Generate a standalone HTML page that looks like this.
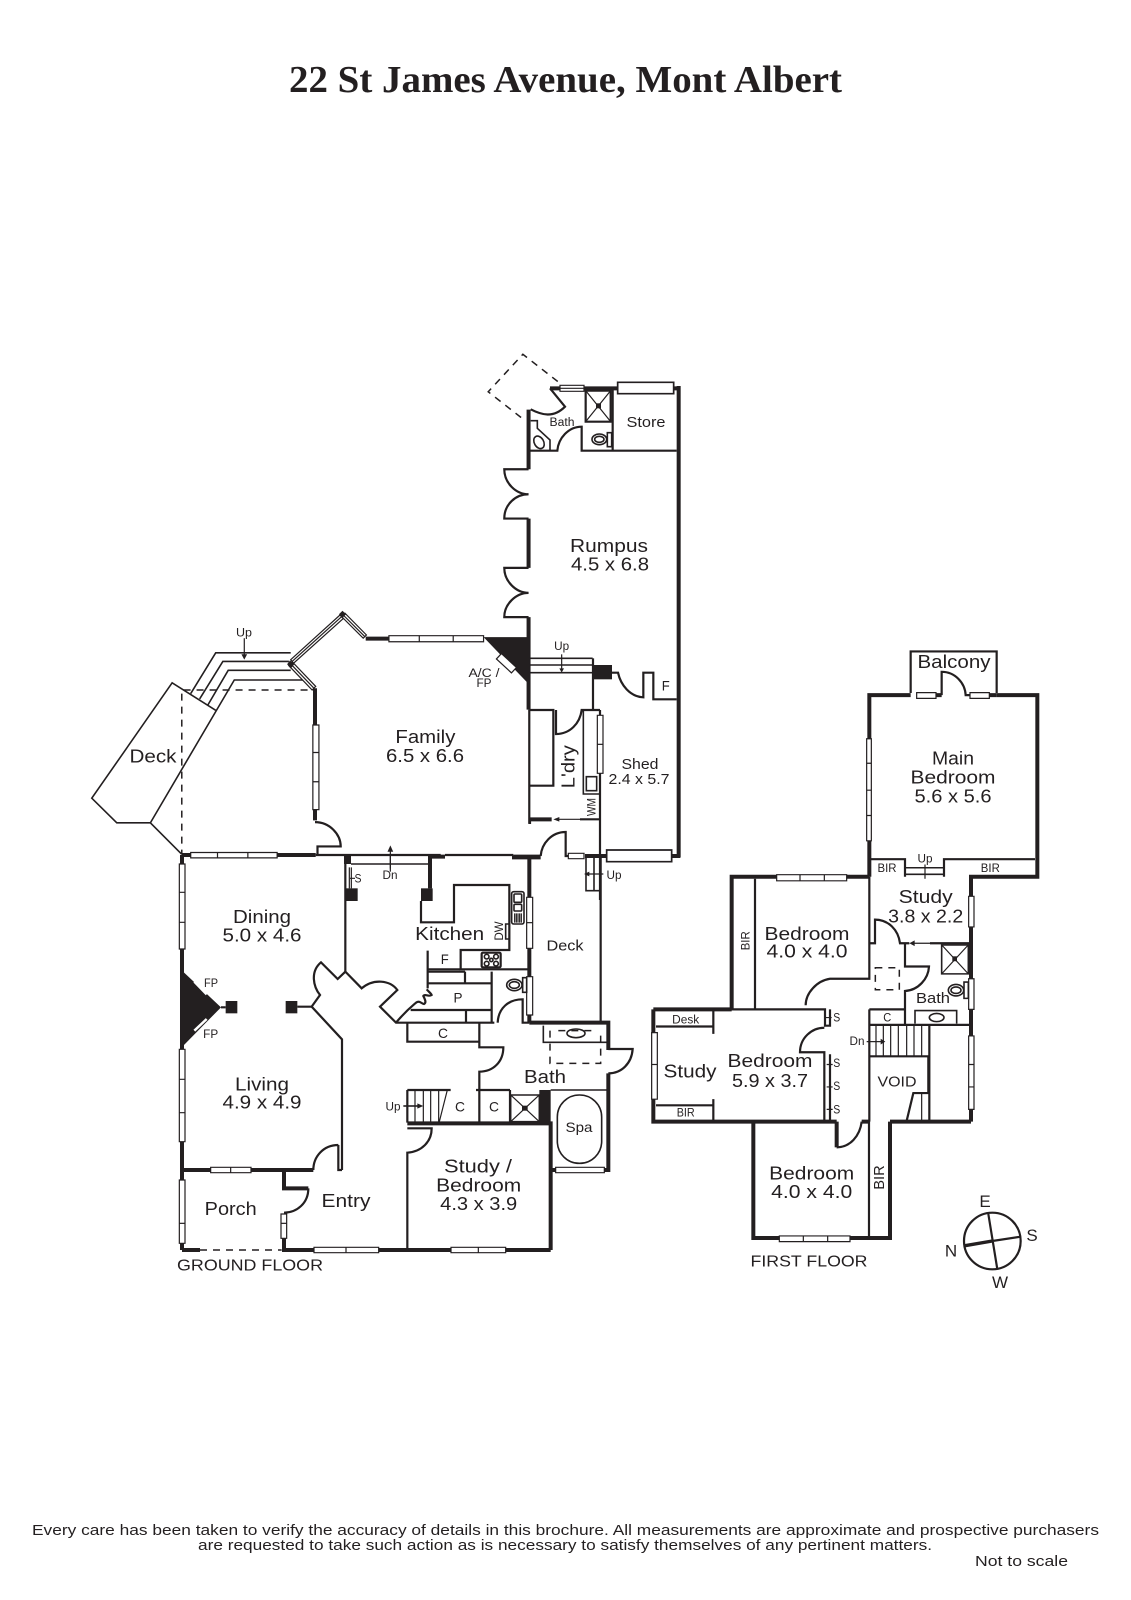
<!DOCTYPE html>
<html><head><meta charset="utf-8">
<style>
html,body{margin:0;padding:0;background:#fff}
svg{display:block}
svg path,svg rect,svg ellipse,svg circle,svg line,svg polygon{vector-effect:non-scaling-stroke}
.p path,.p rect,.p ellipse,.p circle,.p line{fill:none;stroke:#231f20;stroke-width:1.6;stroke-linejoin:miter}
.p .t{stroke-width:1.2}
.p .m{stroke-width:2.2}
.p .w{stroke-width:4}
.p .d{stroke-width:1.5;stroke-dasharray:7 6}
.p .win{fill:#fff;stroke-width:1.2}
.p .wb{fill:#fff;stroke-width:1.7}
.p .k{fill:#231f20;stroke:none}
.p .white{fill:#fff;stroke:#231f20;stroke-width:1.2}
text{font-family:"Liberation Sans",sans-serif;fill:#231f20;text-anchor:middle;font-size:18px}
.s11{font-size:11.5px}.s14{font-size:14px}.s15{font-size:15px}.s16{font-size:16px}
</style></head>
<body>
<svg width="1131" height="1600" viewBox="0 0 1131 1600" xmlns="http://www.w3.org/2000/svg">
<rect width="1131" height="1600" fill="#fff"/>

<!-- Zoom-1 coordinates -->
<g class="p" transform="translate(80,340) scale(.35714)">
<path class="d" d="M1235,217L1143,145L1240,40L1340,118"/>
<path class="w" d="M1256,195V362"/>
<path class="m" d="M1256,362H1188C1188,400 1220,432 1256,432C1220,432 1188,460 1188,500H1256"/>
<path class="w" d="M1256,500V638"/>
<path class="m" d="M1256,638H1188C1188,675 1220,708 1256,708C1220,708 1188,740 1188,776H1256"/>
<path class="w" d="M1256,776V1035"/>
<path class="m" d="M1258,1035V1355"/>
<polygon class="k" points="1130,832 1258,832 1258,965"/>
<polygon class="white" points="1166,893 1180,878 1222,917 1208,932"/>
<path class="w" d="M800,836H865"/>
<rect class="win" x="865" y="828" width="265" height="17"/>
<path class="t" d="M950,828V845M1045,828V845"/>
<path d="M590,876H380L310,990M585,900H400L335,1005M590,925H415L358,1022M630,952H432L197,1352"/>
<polygon class="white" points="590,895 728,770 737,780 598,905"/>
<path class="t" d="M594,900L732,775"/>
<polygon class="white" points="733,775 742,765 802,826 793,835"/>
<path class="t" d="M737,770L797,830"/>
<polygon class="k" points="735,758 745,768 735,778 725,768"/>
<polygon class="white" points="585,912 595,902 660,970 650,980"/>
<path class="t" d="M590,907L655,975"/>
<polygon class="k" points="588,897 600,908 590,920 580,908"/>
<path class="w" d="M658,975V1345"/>
<rect class="win" x="652" y="1078" width="17" height="237"/>
<path class="t" d="M652,1155H669M652,1237H669"/>
<path class="m" d="M658,1350C700,1350 730,1385 730,1418H665V1442"/>
<path class="w" d="M285,1442H660"/>
<path class="m" d="M660,1442H1010"/>
<rect class="win" x="310" y="1435" width="242" height="15"/>
<path class="t" d="M385,1435V1450M470,1435V1450"/>
<path d="M380,1037L258,960L33,1283L103,1352H197L285,1440"/>
<path class="d" d="M290,980H655M285,990V1440"/>
<path class="t" d="M460,835V885"/><polygon class="k" points="452,880 468,880 460,895"/>
<path class="t" d="M869,1432V1480"/><polygon class="k" points="869,1415 861,1433 877,1433"/>
</g>

<!-- Zoom-5 coordinates -->
<g class="p" transform="translate(500,360) scale(.33333)">
<path class="w" d="M150,85H180M252,85H352M521,85H540"/>
<rect class="win" x="180" y="76" width="72" height="18"/>
<path class="t" d="M180,85H252"/>
<rect class="wb" x="353" y="67" width="168" height="34"/>
<path class="m" d="M150,85L195,140C160,175 125,165 92,148"/>
<path class="m" d="M90,272H172C175,235 205,200 245,200V272H530"/>
<path d="M92,182H112V205L150,240V272"/>
<ellipse cx="117" cy="247" rx="14" ry="20" transform="rotate(-30 117 247)"/>
<rect x="257" y="92" width="75" height="93" class="m"/>
<path class="t" d="M257,92L332,185M332,92L257,185"/>
<rect class="k" x="288" y="130" width="15" height="15"/>
<path class="m" d="M338,90V272"/>
<ellipse cx="298" cy="238" rx="22" ry="16"/><ellipse cx="298" cy="238" rx="14" ry="9"/>
<rect x="322" y="218" width="13" height="42"/>
<path class="w" d="M536,78V1493"/>
</g>

<!-- Zoom-6 coordinates -->
<g class="p" transform="translate(500,620) scale(.33333)">
<path d="M90,115H278M90,135H278M90,158H278"/>
<path class="m" d="M279,115V270"/>
<rect class="k" x="278" y="135" width="58" height="43"/>
<path class="m" d="M336,158H354C362,195 390,230 430,232V158H460V238H530"/>
<path class="t" d="M185,103V150"/><polygon class="k" points="178,145 192,145 185,158"/>
<path class="m" d="M88,270H160V497H88"/>
<path class="m" d="M168,270V342C210,342 240,310 245,270H300"/>
<path d="M250,270V522H300"/>
<path class="m" d="M300,270V840"/>
<rect class="win" x="292" y="286" width="17" height="174"/>
<path class="t" d="M292,373H309"/>
<rect x="259" y="470" width="31" height="42"/>
<path class="w" d="M90,598H155"/>
<path class="t" d="M165,598H240"/><polygon class="k" points="160,598 178,591 178,605"/>
<path class="m" d="M240,598H300"/>
<path class="m" d="M90,598V612"/>
<path class="m" d="M122,708C125,670 155,636 197,636V708H205"/>
<rect class="win" x="205" y="700" width="47" height="16"/>
<path class="w" d="M36,712H122M255,708H320M515,708H540"/>
<rect class="wb" x="320" y="690" width="195" height="35"/>
<path d="M258,712V812H300M282,712V812"/>
<path class="t" d="M310,762H262"/><polygon class="k" points="252,762 268,755 268,769"/>
</g>

<!-- Zoom-2 coordinates -->
<g class="p" transform="translate(160,840) scale(.33333)">
<path class="w" d="M66,45V1230M66,1230H120M352,45H465"/>
<path class="w" d="M66,990H460"/>
<rect class="win" x="58" y="72" width="17" height="255"/><path class="t" d="M58,157H75M58,247H75"/>
<rect class="win" x="58" y="628" width="17" height="277"/><path class="t" d="M58,718H75M58,818H75"/>
<rect class="win" x="58" y="1020" width="17" height="190"/><path class="t" d="M58,1150H75"/>
<rect class="win" x="152" y="982" width="121" height="16"/><path class="t" d="M212,982V998"/>
<polygon class="k" points="62,388 183,502 62,625"/>
<path style="stroke:#fff;stroke-width:2.5" d="M103,425L140,463M103,572L140,537"/>
<rect class="k" x="197" y="483" width="35" height="37"/>
<rect class="k" x="377" y="483" width="35" height="37"/>
<path class="m" d="M183,502H197M412,500H455"/>
<path class="m" d="M556,45V395"/>
<rect class="k" x="552" y="45" width="21" height="27"/>
<rect class="k" x="557" y="145" width="36" height="38"/>
<path class="t" d="M568,82V145M574,82V145M570,115H585"/>
<path d="M573,72H805"/>
<path class="w" d="M810,45V145M805,50H855M1060,50H1140"/>
<rect class="k" x="783" y="145" width="35" height="38"/>
<path class="m" d="M855,45H1060"/>
<path class="m" d="M783,183V247H882V135H1048V330H902V388H1105"/>
<path class="m" d="M803,332V445M803,388H900M805,395H915M805,430H995M915,395V430M752,510H995M918,510V548M995,395V548"/>
<path class="m" d="M800,448C806,455 815,462 815,465C805,472 795,460 790,468C795,478 800,488 792,492C785,492 780,480 768,488C760,495 740,510 708,548"/>
<path class="m" d="M556,395L605,445C640,415 690,420 712,450L660,500L708,548H1003"/>
<path class="m" d="M556,395L533,417L483,367C450,395 460,440 480,465L455,500L546,598V990"/>
<path class="m" d="M535,915V990H546M535,915C490,915 460,950 460,990"/>
<path class="w" d="M372,990V1045H445"/>
<path class="m" d="M445,1045C445,1090 410,1118 372,1118"/>
<rect class="win" x="363" y="1122" width="17" height="73"/><path class="t" d="M363,1150H380"/>
<path class="w" d="M372,1195V1230H1172"/>
<path class="d" d="M120,1230H365"/>
<rect class="win" x="462" y="1222" width="194" height="16"/><path class="t" d="M558,1222V1238"/>
<rect class="win" x="873" y="1222" width="164" height="16"/><path class="t" d="M955,1222V1238"/>
<path class="m" d="M742,1230V938C785,935 815,905 815,865H742"/>
<path class="w" d="M742,850H1172V1230"/>
<path class="m" d="M742,750H872M948,750H1050M742,750V848"/>
<path class="t" d="M765,750V848M790,750V848M812,750V848M836,750V848M862,750L838,845"/>
<path class="m" d="M958,750V848M1050,750V848"/>
<rect x="1052" y="765" width="86" height="80"/>
<path class="t" d="M1052,765L1138,845M1138,765L1052,845"/>
<rect class="k" x="1086" y="797" width="17" height="15"/>
<rect class="k" x="1138" y="750" width="34" height="100"/>
<path d="M1172,750H1340"/>
<rect x="1192" y="765" width="133" height="205" rx="66" ry="66"/>
<path class="w" d="M1172,990H1187"/>
<rect class="win" x="1187" y="982" width="146" height="16"/>
<path class="w" d="M1108,548H1345V630M1345,700V990H1333"/>
<path class="m" d="M1345,627H1418C1415,670 1385,700 1345,700"/>
<path d="M1150,557V607H1340"/>
<ellipse cx="1248" cy="580" rx="27" ry="13"/>
<path class="d" d="M1170,572V670H1322V580M1195,572H1310"/>
<path class="m" d="M742,550V605H958M958,548V622H1030C1030,665 1000,695 958,695V750"/>
<path class="w" d="M1108,45V548"/>
<rect class="win" x="1100" y="172" width="18" height="153"/><path class="t" d="M1100,248H1118"/>
<rect class="win" x="1100" y="410" width="18" height="115"/>
<rect x="1055" y="155" width="37" height="97" rx="6"/>
<rect x="1062" y="162" width="23" height="25" rx="3"/>
<rect x="1062" y="193" width="23" height="20" rx="3"/>
<path class="t" d="M1064,220V248M1069,220V248M1074,220V248M1079,220V248M1084,220V248"/>
<rect class="m" x="965" y="338" width="57" height="44" rx="4"/>
<circle cx="980" cy="350" r="7"/><circle cx="1008" cy="350" r="7"/><circle cx="980" cy="371" r="7"/><circle cx="1008" cy="371" r="7"/><circle cx="994" cy="360" r="5"/>
<rect x="1037" y="252" width="11" height="45"/>
<ellipse cx="1063" cy="435" rx="23" ry="17"/><ellipse cx="1063" cy="435" rx="15" ry="10"/>
<rect x="1088" y="413" width="12" height="44"/>
<path class="m" d="M1013,548C1015,505 1045,478 1088,478V548H1108"/>
<path class="m" d="M1322,45V545"/>
<path d="M730,798H775"/><polygon class="k" points="790,798 772,790 772,806"/>
<path class="t" d="M691,48V95"/>
</g>

<!-- Zoom-3 coordinates -->
<g class="p" transform="translate(640,640) scale(.33333,.40816)">
<path class="w" d="M812,135H688V580M1070,135H1192V580H993V1180"/>
<path class="m" d="M812,130V28H1070V130"/>
<rect class="win" x="830" y="129" width="58" height="14"/><rect class="win" x="990" y="129" width="58" height="14"/>
<path class="w" d="M888,135H905M1048,135H1070"/>
<path class="m" d="M905,135V78C945,78 975,105 977,135H990"/>
<rect class="win" x="680" y="242" width="14" height="250"/><path class="t" d="M680,302H694M680,368H694M680,430H694"/>
<path class="m" d="M690,537H795V580M912,580V537H1185"/>
<path d="M795,558H912M795,574H912"/>
<path class="t" d="M855,550V585"/>
<path class="w" d="M275,905V580H688"/>
<rect class="win" x="410" y="575" width="210" height="15"/><path class="t" d="M480,575V590M553,575V590"/>
<path class="m" d="M345,585V905"/>
<path class="m" d="M688,580V830H570C530,835 497,865 497,895M688,743H705V685C745,685 775,710 780,743H808"/>
<path class="t" d="M815,743H870"/><polygon class="k" points="808,743 824,736 824,750"/>
<path class="m" d="M870,743H988M795,743V800H867C865,830 835,858 795,860V945"/>
<rect class="win" x="986" y="628" width="16" height="75"/>
<rect class="win" x="986" y="830" width="16" height="75"/>
<rect class="win" x="986" y="970" width="16" height="180"/><path class="t" d="M986,1040H1002M986,1095H1002"/>
<rect x="905" y="747" width="80" height="71"/>
<path class="t" d="M905,747L985,818M985,747L905,818"/>
<rect class="k" x="937" y="775" width="14" height="12"/>
<ellipse cx="948" cy="858" rx="23" ry="14"/><ellipse cx="948" cy="858" rx="15" ry="8"/>
<rect x="972" y="838" width="13" height="40"/>
<path d="M825,940V908H950V940"/>
<ellipse cx="890" cy="925" rx="22" ry="10"/>
<path class="m" d="M688,905H795M688,943H993"/>
<path class="m" d="M688,905V1180"/>
<path class="t" d="M708,945V1020M730,945V1020M752,945V1020M775,945V1020M800,945V1020M822,945V1020M845,945V1020"/>
<path class="m" d="M868,945V1178M688,1020H865V1110H820L800,1178"/>
<path class="t" d="M845,1110V1178"/>
<path class="t" d="M680,984H725"/><polygon class="k" points="736,984 722,977 722,991"/>
<path class="d" d="M706,803H778V857H706Z"/>
<path class="w" d="M40,905H275M40,905V1180H590"/>
<path class="m" d="M220,905H555V945H570V905M553,950C515,950 480,975 480,1010H553V1180M570,1015V1180"/>
<path class="m" d="M48,947H220M220,905V965M48,1140H220M220,1125V1180"/>
<rect class="win" x="35" y="962" width="17" height="163"/><path class="t" d="M35,1040H52"/>
<path class="t" d="M558,925H575M560,1040H578M560,1095H578M560,1150H578"/>
<path class="w" d="M590,1180V1243"/>
<path class="m" d="M590,1243C630,1243 660,1215 665,1180"/>
<path class="w" d="M665,1180H690M750,1180H993"/>
<path class="w" d="M340,1180V1465H750V1180"/>
<rect class="win" x="418" y="1460" width="212" height="14"/><path class="t" d="M490,1460V1474M563,1460V1474"/>
<path class="m" d="M687,1180V1465"/>
</g>

<!-- Compass -->
<g class="p" transform="translate(940,1180) scale(.33333)">
<circle class="m" cx="157" cy="183" r="85"/>
<path class="m" d="M145,102L172,268M157,183L243,170"/>
<path style="stroke-width:3.4" d="M75,197L157,183"/>
</g>

<!-- Title and footer -->
<text x="565.5" y="92" style="font-family:'Liberation Serif',serif;font-weight:bold;font-size:38px" textLength="553" lengthAdjust="spacingAndGlyphs">22 St James Avenue, Mont Albert</text>
<text x="565.5" y="1535" style="font-size:15px" textLength="1067" lengthAdjust="spacingAndGlyphs">Every care has been taken to verify the accuracy of details in this brochure.  All measurements are approximate and prospective purchasers</text>
<text x="565" y="1550" style="font-size:15px" textLength="734" lengthAdjust="spacingAndGlyphs">are requested to take such action as is necessary to satisfy themselves of any pertinent matters.</text>
<text x="1021.5" y="1566" style="font-size:15px" textLength="93" lengthAdjust="spacingAndGlyphs">Not to scale</text>

<!-- Ground floor upper labels -->
<text x="425.4" y="743" textLength="60" lengthAdjust="spacingAndGlyphs">Family</text>
<text x="425" y="762" textLength="78" lengthAdjust="spacingAndGlyphs">6.5 x 6.6</text>
<text x="153" y="762.5" textLength="47" lengthAdjust="spacingAndGlyphs">Deck</text>
<text x="244" y="636.5" class="s11" textLength="16" lengthAdjust="spacingAndGlyphs">Up</text>
<text x="484" y="677" class="s11" textLength="31" lengthAdjust="spacingAndGlyphs">A/C /</text>
<text x="484" y="687" class="s11" textLength="15" lengthAdjust="spacingAndGlyphs">FP</text>
<text x="561.7" y="650" class="s11" textLength="15" lengthAdjust="spacingAndGlyphs">Up</text>
<text x="609" y="552" textLength="78" lengthAdjust="spacingAndGlyphs">Rumpus</text>
<text x="610" y="570.5" textLength="78" lengthAdjust="spacingAndGlyphs">4.5 x 6.8</text>
<text x="646" y="427" class="s15" textLength="39" lengthAdjust="spacingAndGlyphs">Store</text>
<text x="562" y="426" class="s11" textLength="25" lengthAdjust="spacingAndGlyphs">Bath</text>
<text x="640" y="769" class="s15" textLength="37" lengthAdjust="spacingAndGlyphs">Shed</text>
<text x="639" y="784" class="s15" textLength="61" lengthAdjust="spacingAndGlyphs">2.4 x 5.7</text>
<text x="665.7" y="690.7" class="s14" textLength="8" lengthAdjust="spacingAndGlyphs">F</text>
<text transform="translate(574.7,766.7) rotate(-90)" textLength="43" lengthAdjust="spacingAndGlyphs">L'dry</text>
<text transform="translate(595.7,807) rotate(-90)" class="s11" textLength="18" lengthAdjust="spacingAndGlyphs">WM</text>
<text x="614" y="879" class="s11" textLength="15" lengthAdjust="spacingAndGlyphs">Up</text>

<!-- Ground floor lower labels -->
<text x="358" y="882.7" class="s11" textLength="7" lengthAdjust="spacingAndGlyphs">S</text>
<text x="390" y="879" class="s11" textLength="15" lengthAdjust="spacingAndGlyphs">Dn</text>
<text x="262" y="923" textLength="58" lengthAdjust="spacingAndGlyphs">Dining</text>
<text x="262" y="941.7" textLength="79" lengthAdjust="spacingAndGlyphs">5.0 x 4.6</text>
<text x="449.7" y="940" textLength="69" lengthAdjust="spacingAndGlyphs">Kitchen</text>
<text transform="translate(503,931) rotate(-90)" class="s11" textLength="19" lengthAdjust="spacingAndGlyphs">DW</text>
<text x="565" y="950.7" class="s15" textLength="37" lengthAdjust="spacingAndGlyphs">Deck</text>
<text x="444.7" y="964" class="s14" textLength="8" lengthAdjust="spacingAndGlyphs">F</text>
<text x="458" y="1002.7" class="s14" textLength="9" lengthAdjust="spacingAndGlyphs">P</text>
<text x="211" y="987" class="s11" textLength="14" lengthAdjust="spacingAndGlyphs">FP</text>
<text x="210.7" y="1038" class="s11" textLength="15" lengthAdjust="spacingAndGlyphs">FP</text>
<text x="443" y="1038" class="s14" textLength="10" lengthAdjust="spacingAndGlyphs">C</text>
<text x="545" y="1083" textLength="42" lengthAdjust="spacingAndGlyphs">Bath</text>
<text x="262" y="1090.7" textLength="54" lengthAdjust="spacingAndGlyphs">Living</text>
<text x="262" y="1108.7" textLength="79" lengthAdjust="spacingAndGlyphs">4.9 x 4.9</text>
<text x="393" y="1110.7" class="s11" textLength="15" lengthAdjust="spacingAndGlyphs">Up</text>
<text x="460" y="1111.7" class="s14" textLength="10" lengthAdjust="spacingAndGlyphs">C</text>
<text x="494" y="1111.7" class="s14" textLength="10" lengthAdjust="spacingAndGlyphs">C</text>
<text x="579" y="1132" class="s14" textLength="27" lengthAdjust="spacingAndGlyphs">Spa</text>
<text x="478" y="1172.7" textLength="68" lengthAdjust="spacingAndGlyphs">Study /</text>
<text x="478.7" y="1191.7" textLength="85" lengthAdjust="spacingAndGlyphs">Bedroom</text>
<text x="478.7" y="1210" textLength="77" lengthAdjust="spacingAndGlyphs">4.3 x 3.9</text>
<text x="230.7" y="1215" textLength="52" lengthAdjust="spacingAndGlyphs">Porch</text>
<text x="346" y="1207" textLength="49" lengthAdjust="spacingAndGlyphs">Entry</text>
<text x="250" y="1270.7" class="s16" textLength="146" lengthAdjust="spacingAndGlyphs">GROUND FLOOR</text>

<!-- First floor labels -->
<text x="954" y="667.8" textLength="73" lengthAdjust="spacingAndGlyphs">Balcony</text>
<text x="953" y="764.5" textLength="42" lengthAdjust="spacingAndGlyphs">Main</text>
<text x="953" y="783.7" textLength="85" lengthAdjust="spacingAndGlyphs">Bedroom</text>
<text x="953" y="802.4" textLength="77" lengthAdjust="spacingAndGlyphs">5.6 x 5.6</text>
<text x="887" y="872" class="s11" textLength="19" lengthAdjust="spacingAndGlyphs">BIR</text>
<text x="990.3" y="872" class="s11" textLength="19" lengthAdjust="spacingAndGlyphs">BIR</text>
<text x="925" y="862.4" class="s11" textLength="15" lengthAdjust="spacingAndGlyphs">Up</text>
<text x="925.7" y="903" textLength="54" lengthAdjust="spacingAndGlyphs">Study</text>
<text x="925.7" y="922.4" textLength="75" lengthAdjust="spacingAndGlyphs">3.8 x 2.2</text>
<text x="807" y="940" textLength="85" lengthAdjust="spacingAndGlyphs">Bedroom</text>
<text x="807" y="957.5" textLength="81" lengthAdjust="spacingAndGlyphs">4.0 x 4.0</text>
<text transform="translate(749.7,940.8) rotate(-90)" class="s11" textLength="19" lengthAdjust="spacingAndGlyphs">BIR</text>
<text x="933" y="1003" class="s15" textLength="34" lengthAdjust="spacingAndGlyphs">Bath</text>
<text x="887.3" y="1021.6" class="s11" textLength="8" lengthAdjust="spacingAndGlyphs">C</text>
<text x="685.7" y="1023.7" class="s11" textLength="27" lengthAdjust="spacingAndGlyphs">Desk</text>
<text x="836.7" y="1021.6" class="s11" textLength="7" lengthAdjust="spacingAndGlyphs">S</text>
<text x="836.7" y="1067" class="s11" textLength="7" lengthAdjust="spacingAndGlyphs">S</text>
<text x="836.7" y="1090" class="s11" textLength="7" lengthAdjust="spacingAndGlyphs">S</text>
<text x="836.7" y="1113.5" class="s11" textLength="7" lengthAdjust="spacingAndGlyphs">S</text>
<text x="857" y="1045" class="s11" textLength="15" lengthAdjust="spacingAndGlyphs">Dn</text>
<text x="690" y="1077.5" textLength="53" lengthAdjust="spacingAndGlyphs">Study</text>
<text x="770" y="1067" textLength="85" lengthAdjust="spacingAndGlyphs">Bedroom</text>
<text x="770" y="1087" textLength="76" lengthAdjust="spacingAndGlyphs">5.9 x 3.7</text>
<text x="897" y="1086.5" class="s15" textLength="39" lengthAdjust="spacingAndGlyphs">VOID</text>
<text x="685.7" y="1116.7" class="s11" textLength="18" lengthAdjust="spacingAndGlyphs">BIR</text>
<text transform="translate(884,1177.5) rotate(-90)" class="s15" textLength="24.5" lengthAdjust="spacingAndGlyphs">BIR</text>
<text x="811.7" y="1179.6" textLength="85" lengthAdjust="spacingAndGlyphs">Bedroom</text>
<text x="811.7" y="1198" textLength="81" lengthAdjust="spacingAndGlyphs">4.0 x 4.0</text>
<text x="809" y="1266.5" class="s16" textLength="117" lengthAdjust="spacingAndGlyphs">FIRST FLOOR</text>

<text x="985" y="1207" style="font-size:17px">E</text>
<text x="1032" y="1241" style="font-size:17px">S</text>
<text x="951" y="1256.7" style="font-size:17px">N</text>
<text x="1000" y="1288" style="font-size:17px">W</text>
</svg>
</body></html>
